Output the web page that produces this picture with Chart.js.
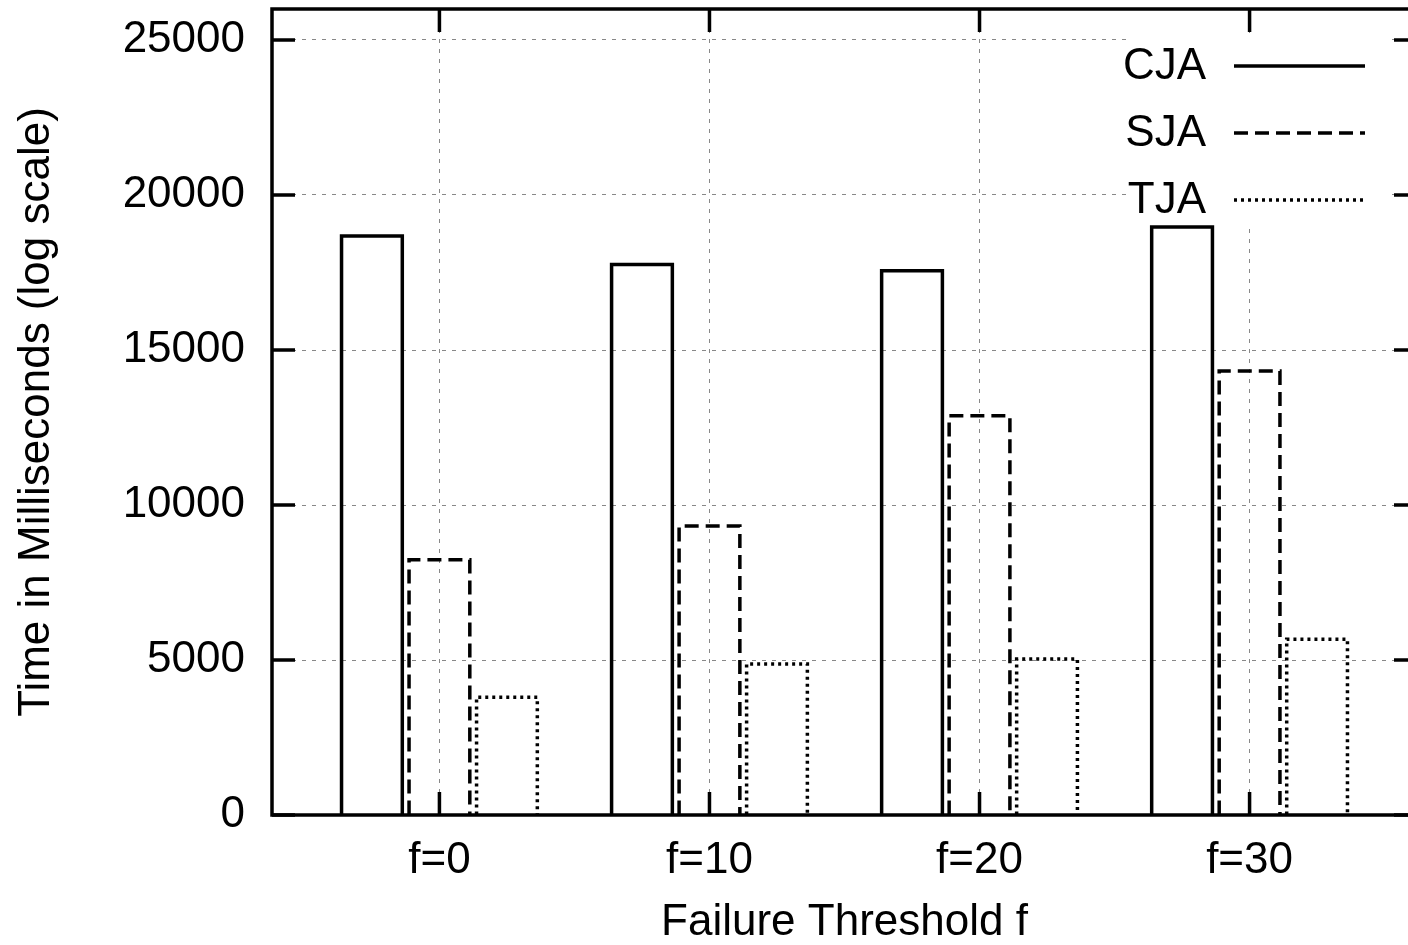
<!DOCTYPE html>
<html>
<head>
<meta charset="utf-8">
<script src="https://cdn.jsdelivr.net/npm/chart.js@4.4.0/dist/chart.umd.min.js"></script>
<style>
  html, body { margin: 0; padding: 0; overflow: hidden; background: #fff; }
  canvas { display: block; }
</style>
</head>
<body>
<canvas id="chart" width="1440" height="945"></canvas>
<script>
const categories = ['f=0', 'f=10', 'f=20', 'f=30'];
const cjaTimes = [18680, 17760, 17560, 18970];
const sjaTimes = [8230, 9320, 12880, 14320];
const tjaTimes = [3800, 4870, 5030, 5670];
const yTicks = [0, 5000, 10000, 15000, 20000, 25000];

const FONT = "'Liberation Sans', Arial, Helvetica, sans-serif";
const LW = 3.5;
const toPoints = (vals) => vals.map((v, i) => ({ x: i, y: v }));

// gnuplot look: outlined boxes, inward ticks on all sides, opaque key box
const gnuplotFrame = {
	id: 'gnuplotFrame',
	afterDatasetsDraw(chart) {
		const ctx = chart.ctx;
		chart.data.datasets.forEach((ds, di) => {
			const meta = chart.getDatasetMeta(di);
			ctx.save();
			ctx.strokeStyle = '#000';
			ctx.lineWidth = LW;
			ctx.lineJoin = 'miter';
			ctx.setLineDash(ds.dash);
			meta.data.forEach((bar) => {
				const x0 = bar.x - bar.width / 2;
				const x1 = bar.x + bar.width / 2;
				ctx.beginPath();
				ctx.moveTo(x0, bar.base);
				ctx.lineTo(x0, bar.y);
				ctx.lineTo(x1, bar.y);
				ctx.lineTo(x1, bar.base);
				ctx.stroke();
			});
			ctx.restore();
		});
	},
	afterDraw(chart) {
		const ctx = chart.ctx;
		const { left, right, top, bottom } = chart.chartArea;
		const xs = chart.scales.x;
		const ys = chart.scales.y;

		// key
		ctx.save();
		ctx.fillStyle = '#fff';
		ctx.fillRect(1128, 35, 264, 189);
		ctx.font = '44px ' + FONT;
		ctx.textAlign = 'right';
		ctx.textBaseline = 'middle';
		chart.data.datasets.forEach((ds, i) => {
			const y = 66 + i * 67;
			ctx.fillStyle = '#000';
			ctx.fillText(ds.label, 1206, y + 1);
			ctx.strokeStyle = '#000';
			ctx.lineWidth = LW;
			ctx.setLineDash(ds.dash);
			ctx.beginPath();
			ctx.moveTo(1234, y);
			ctx.lineTo(1365, y);
			ctx.stroke();
		});
		ctx.restore();

		// ticks
		ctx.save();
		ctx.strokeStyle = '#000';
		ctx.lineWidth = LW;
		ctx.setLineDash([]);
		ctx.beginPath();
		yTicks.forEach((v) => {
			const y = ys.getPixelForValue(v);
			ctx.moveTo(left, y); ctx.lineTo(left + 23, y);
			ctx.moveTo(right - 23, y); ctx.lineTo(right, y);
		});
		categories.forEach((c, i) => {
			const x = xs.getPixelForValue(i);
			ctx.moveTo(x, bottom); ctx.lineTo(x, bottom - 23);
			ctx.moveTo(x, top); ctx.lineTo(x, top + 23);
		});
		ctx.stroke();
		ctx.strokeRect(left, top, right - left, bottom - top);
		ctx.restore();
	}
};

new Chart(document.getElementById('chart'), {
	type: 'bar',
	data: {
		datasets: [
			{ label: 'CJA', data: toPoints(cjaTimes), dash: [] },
			{ label: 'SJA', data: toPoints(sjaTimes), dash: [14, 7] },
			{ label: 'TJA', data: toPoints(tjaTimes), dash: [3, 4] }
		].map((d) => Object.assign(d, {
			backgroundColor: 'transparent',
			borderWidth: 0,
			categoryPercentage: 0.75,
			barPercentage: 0.9
		}))
	},
	options: {
		responsive: false,
		animation: false,
		layout: { padding: { left: 0, right: 23, top: 9, bottom: 0 } },
		plugins: { legend: { display: false }, tooltip: { enabled: false } },
		scales: {
			x: {
				type: 'linear',
				min: -0.62,
				max: 3.62,
				offset: false,
				afterBuildTicks: (s) => { s.ticks = categories.map((c, i) => ({ value: i })); },
				afterFit: (s) => {
					s.height = 130;
					s.paddingLeft = 0;
					s.paddingRight = 0;
				},
				grid: { offset: false, drawTicks: false, color: '#888', lineWidth: 1 },
				border: { display: false, dash: [4, 6] },
				ticks: {
					autoSkip: false,
					maxRotation: 0,
					padding: 19,
					color: '#000',
					font: { family: FONT, size: 44 },
					callback: (v) => categories[v]
				},
				title: {
					display: true,
					text: 'Failure Threshold f',
					color: '#000',
					font: { family: FONT, size: 44 },
					padding: { top: 0, bottom: -4 }
				}
			},
			y: {
				min: 0,
				max: 26000,
				afterBuildTicks: (s) => { s.ticks = yTicks.map((v) => ({ value: v })); },
				afterFit: (s) => {
					s.width = 272;
					s.paddingTop = 0;
					s.paddingBottom = 0;
				},
				grid: { drawTicks: false, color: '#888', lineWidth: 1 },
				border: { display: false, dash: [4, 6] },
				ticks: {
					padding: 27,
					color: '#000',
					font: { family: FONT, size: 44 },
					callback: (v) => String(v)
				},
				title: {
					display: true,
					text: 'Time in Milliseconds (log scale)',
					color: '#000',
					font: { family: FONT, size: 44 },
					padding: { top: 10, bottom: 0 }
				}
			}
		}
	},
	plugins: [gnuplotFrame]
});
</script>
</body>
</html>
